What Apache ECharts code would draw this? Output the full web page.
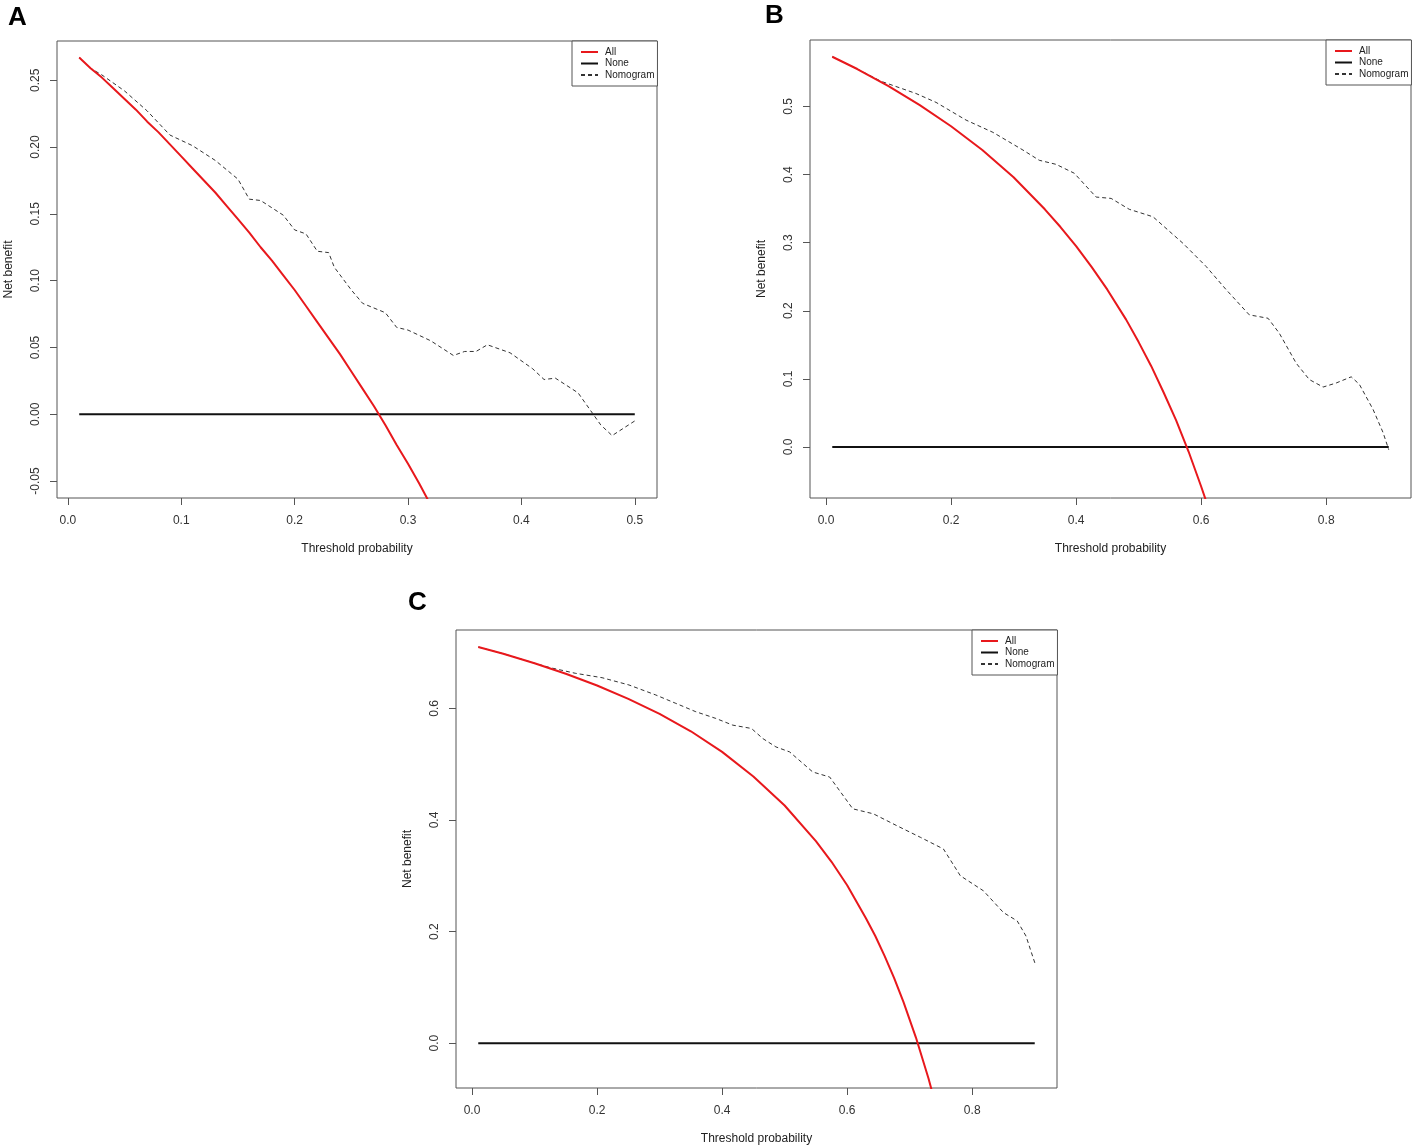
<!DOCTYPE html>
<html>
<head>
<meta charset="utf-8">
<title>Decision curves</title>
<script src="https://cdn.jsdelivr.net/npm/echarts@6/dist/echarts.min.js"></script>
<style>
  html, body { margin: 0; padding: 0; background: #fff; }
  #main { width: 1412px; height: 1146px; }
</style>
</head>
<body>
<div id="main"></div>
<script>
// ---- panel A ----
const allXA = [0.01,0.02,0.03,0.04,0.05,0.06,0.07,0.08,0.09,0.10,0.11,0.12,0.13,0.14,0.15,0.16,
  0.17,0.18,0.19,0.20,0.21,0.22,0.23,0.24,0.25,0.26,0.27,0.28,0.29,0.30,0.31,0.32];
const allYA = [0.267,0.259,0.252,0.244,0.236,0.228,0.219,0.211,0.202,0.193,0.184,0.175,0.166,0.156,0.146,0.136,
  0.125,0.115,0.104,0.093,0.081,0.069,0.057,0.045,0.032,0.019,0.006,-0.008,-0.023,-0.037,-0.052,-0.068];
const nomoXA = [0.01,0.02,0.03,0.05,0.07,0.09,0.11,0.13,0.15,0.16,0.17,0.19,0.20,0.21,0.22,0.23,0.235,
  0.25,0.26,0.28,0.29,0.30,0.32,0.34,0.35,0.36,0.37,0.39,0.41,0.42,0.43,0.45,0.46,0.47,0.48,0.50];
const nomoYA = [0.267,0.259,0.254,0.242,0.227,0.209,0.201,0.190,0.176,0.161,0.160,0.149,0.138,0.135,0.122,0.121,0.110,
  0.093,0.083,0.076,0.065,0.063,0.055,0.044,0.047,0.047,0.052,0.046,0.034,0.026,0.027,0.016,0.004,-0.008,-0.016,-0.005];
const noneXA = [0.01, 0.50];
const noneYA = [0, 0];
const xTicksA = [0, 0.1, 0.2, 0.3, 0.4, 0.5];
const xLabelsA = ['0.0', '0.1', '0.2', '0.3', '0.4', '0.5'];
const yTicksA = [-0.05, 0, 0.05, 0.10, 0.15, 0.20, 0.25];
const yLabelsA = ['-0.05', '0.00', '0.05', '0.10', '0.15', '0.20', '0.25'];

// ---- panel B ----
const allXB = [0.01,0.05,0.10,0.15,0.20,0.25,0.30,0.35,0.375,0.40,0.425,0.45,0.48,0.50,0.52,0.54,0.56,0.58,0.60,0.61];
const allYB = [0.573,0.555,0.530,0.502,0.471,0.436,0.396,0.349,0.323,0.295,0.264,0.231,0.187,0.154,0.119,0.080,0.039,-0.007,-0.058,-0.085];
const nomoXB = [0.01,0.05,0.088,0.144,0.176,0.224,0.267,0.315,0.341,0.368,0.397,0.432,0.456,0.485,0.499,0.523,
  0.571,0.608,0.640,0.677,0.707,0.725,0.752,0.773,0.795,0.816,0.840,0.853,0.875,0.891,0.900];
const nomoYB = [0.573,0.555,0.537,0.519,0.506,0.480,0.462,0.436,0.421,0.415,0.402,0.367,0.365,0.349,0.345,0.338,
  0.299,0.265,0.231,0.194,0.189,0.167,0.123,0.099,0.088,0.094,0.103,0.092,0.055,0.021,-0.004];
const noneXB = [0.01, 0.90];
const noneYB = [0, 0];
const xTicksB = [0, 0.2, 0.4, 0.6, 0.8];
const xLabelsB = ['0.0', '0.2', '0.4', '0.6', '0.8'];
const yTicksB = [0, 0.1, 0.2, 0.3, 0.4, 0.5];
const yLabelsB = ['0.0', '0.1', '0.2', '0.3', '0.4', '0.5'];

// ---- panel C ----
const allXC = [0.01,0.05,0.10,0.15,0.20,0.25,0.30,0.35,0.40,0.45,0.50,0.55,0.575,0.60,0.63,0.645,0.66,0.675,0.69,0.71,0.73,0.74];
const allYC = [0.710,0.698,0.681,0.662,0.641,0.617,0.590,0.559,0.522,0.478,0.426,0.362,0.325,0.283,0.224,0.192,0.156,0.117,0.074,0.010,-0.063,-0.104];
const nomoXC = [0.01,0.05,0.10,0.125,0.165,0.208,0.251,0.294,0.326,0.358,0.390,0.417,0.447,0.465,0.486,0.508,
  0.545,0.572,0.609,0.642,0.679,0.717,0.754,0.781,0.818,0.850,0.872,0.886,0.893,0.901];
const nomoYC = [0.710,0.698,0.681,0.673,0.663,0.655,0.642,0.624,0.609,0.594,0.582,0.570,0.564,0.546,0.531,0.522,
  0.486,0.477,0.420,0.411,0.390,0.369,0.348,0.300,0.273,0.234,0.219,0.192,0.168,0.141];
const noneXC = [0.01, 0.90];
const noneYC = [0, 0];
const xTicksC = [0, 0.2, 0.4, 0.6, 0.8];
const xLabelsC = ['0.0', '0.2', '0.4', '0.6', '0.8'];
const yTicksC = [0, 0.2, 0.4, 0.6];
const yLabelsC = ['0.0', '0.2', '0.4', '0.6'];

const FONT = 'Liberation Sans, Arial, sans-serif';
const RED = '#e8181c';

function pairs(xs, ys) {
  return xs.map((x, i) => [x, ys[i]]);
}

function labelOf(ticks, labels) {
  return v => {
    const i = ticks.findIndex(t => Math.abs(t - v) < 1e-9);
    return i < 0 ? '' : labels[i];
  };
}

const panels = [
  { letter: 'A', grid: { left: 57, top: 41, width: 600, height: 457 },
    xMin: -0.0096, xMax: 0.5196, yMin: -0.0627, yMax: 0.2794,
    xTicks: xTicksA, xLabels: xLabelsA, yTicks: yTicksA, yLabels: yLabelsA,
    all: pairs(allXA, allYA), none: pairs(noneXA, noneYA), nomo: pairs(nomoXA, nomoYA),
    title: { left: 8, top: 5 }, legend: { left: 572, top: 41 } },
  { letter: 'B', grid: { left: 810, top: 40, width: 601, height: 458 },
    xMin: -0.0256, xMax: 0.9356, yMin: -0.0749, yMax: 0.5976,
    xTicks: xTicksB, xLabels: xLabelsB, yTicks: yTicksB, yLabels: yLabelsB,
    all: pairs(allXB, allYB), none: pairs(noneXB, noneYB), nomo: pairs(nomoXB, nomoYB),
    title: { left: 765, top: 3 }, legend: { left: 1326, top: 40 } },
  { letter: 'C', grid: { left: 456, top: 630, width: 601, height: 459 },
    xMin: -0.0256, xMax: 0.9356, yMin: -0.0804, yMax: 0.7405,
    xTicks: xTicksC, xLabels: xLabelsC, yTicks: yTicksC, yLabels: yLabelsC,
    all: pairs(allXC, allYC), none: pairs(noneXC, noneYC), nomo: pairs(nomoXC, nomoYC),
    title: { left: 408, top: 590 }, legend: { left: 972, top: 630 } }
];

const option = {
  animation: false,
  backgroundColor: '#fff',
  title: [], grid: [], xAxis: [], yAxis: [], legend: [], series: []
};

panels.forEach((p, i) => {
  option.title.push({
    text: p.letter, left: p.title.left, top: p.title.top, padding: 0,
    textStyle: { fontFamily: FONT, fontSize: 26, fontWeight: 'bold', color: '#000' }
  });
  option.grid.push(Object.assign({ show: true, borderColor: '#555', borderWidth: 1, backgroundColor: 'transparent' }, p.grid));
  option.xAxis.push({
    type: 'value', gridIndex: i, min: p.xMin, max: p.xMax,
    axisLine: { show: false, onZero: false }, splitLine: { show: false },
    axisTick: { show: true, customValues: p.xTicks, length: 7, lineStyle: { color: '#555' } },
    axisLabel: { customValues: p.xTicks, formatter: labelOf(p.xTicks, p.xLabels), margin: 17,
      color: '#333', fontSize: 12, fontFamily: FONT },
    name: 'Threshold probability', nameLocation: 'middle', nameGap: 45,
    nameTextStyle: { color: '#222', fontSize: 12, fontFamily: FONT }
  });
  option.yAxis.push({
    type: 'value', gridIndex: i, min: p.yMin, max: p.yMax,
    axisLine: { show: false, onZero: false }, splitLine: { show: false },
    axisTick: { show: true, customValues: p.yTicks, length: 7, lineStyle: { color: '#555' } },
    axisLabel: { customValues: p.yTicks, formatter: labelOf(p.yTicks, p.yLabels), rotate: 90, margin: 15,
      color: '#333', fontSize: 12, fontFamily: FONT },
    name: 'Net benefit', nameLocation: 'middle', nameGap: 42, nameRotate: 90,
    nameTextStyle: { color: '#222', fontSize: 12, fontFamily: FONT }
  });
  option.legend.push({
    left: p.legend.left, top: p.legend.top, orient: 'vertical',
    data: ['All', 'None', 'Nomogram'],
    selectedMode: false,
    backgroundColor: '#fff', borderColor: '#555', borderWidth: 1,
    padding: [6, 3, 6, 8], itemGap: 1.5, itemWidth: 17, itemHeight: 10,
    itemStyle: { opacity: 0 },
    textStyle: { fontFamily: FONT, fontSize: 10, color: '#222', padding: [0, 0, 0, 2] }
  });
  option.series.push(
    { type: 'line', name: 'All', xAxisIndex: i, yAxisIndex: i, data: p.all, symbol: 'none', clip: true,
      lineStyle: { color: RED, width: 2 }, itemStyle: { color: RED }, silent: true, z: 3 },
    { type: 'line', name: 'None', xAxisIndex: i, yAxisIndex: i, data: p.none, symbol: 'none', clip: true,
      lineStyle: { color: '#111', width: 2 }, itemStyle: { color: '#111' }, silent: true, z: 2 },
    { type: 'line', name: 'Nomogram', xAxisIndex: i, yAxisIndex: i, data: p.nomo, symbol: 'none', clip: true,
      lineStyle: { color: '#333', width: 1, type: [4, 3] }, itemStyle: { color: '#333' }, silent: true, z: 2 }
  );
});

const chart = echarts.init(document.getElementById('main'));
chart.setOption(option);
</script>
</body>
</html>
